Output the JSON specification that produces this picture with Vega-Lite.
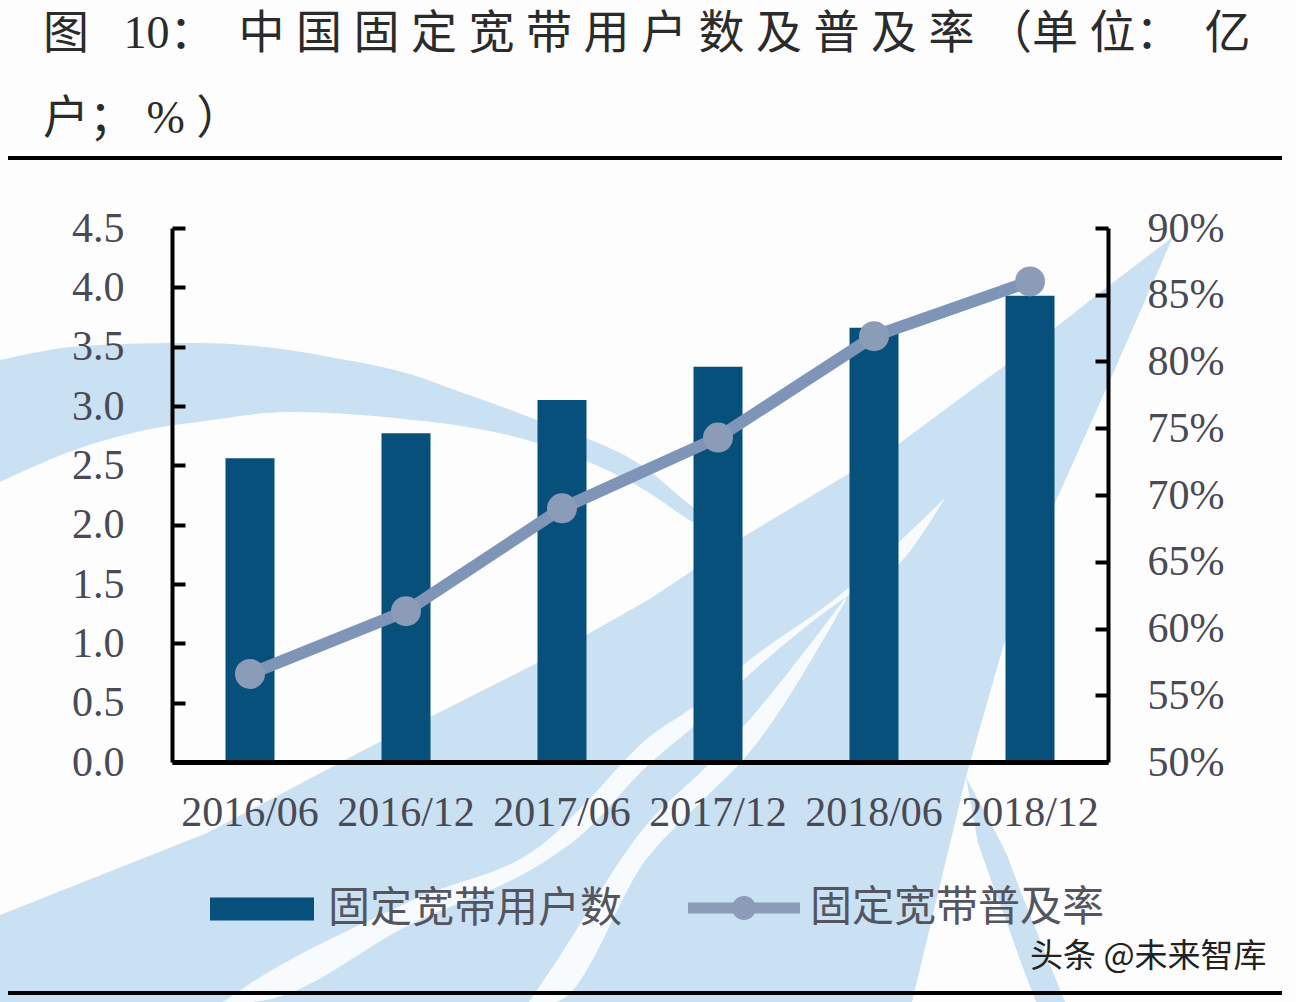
{
"$schema":"https://vega.github.io/schema/vega-lite/v6.json",
"autosize":{"type":"none"},
"width":936,"height":534,
"padding":{"left":172,"top":228,"right":188,"bottom":240},
"background":"#fdfdfe",
"config":{"view":{"stroke":null}},
"title":{"text":["图\u00a0\u00a0\u00a010\uff1a\u00a0\u00a0中 国 固 定 宽 带 用 户 数 及 普 及 率 \uff08单 位\uff1a\u00a0\u00a0亿","户\uff1b\u00a0%\u00a0\uff09"],"anchor":"start","frame":"group","dx":-129,"offset":13,"fontSize":46,"lineHeight":85,"fontWeight":"normal","font":"Liberation Serif, Noto Sans CJK SC","color":"#2b2b2b"},
"datasets":{
"broadband":[
{"period":"2016/06","users":2.56,"rate":0.566},
{"period":"2016/12","users":2.77,"rate":0.613},
{"period":"2017/06","users":3.05,"rate":0.69},
{"period":"2017/12","users":3.33,"rate":0.743},
{"period":"2018/06","users":3.66,"rate":0.819},
{"period":"2018/12","users":3.93,"rate":0.86}],
"arch":[{"x":0,"y":360,"y2":482},{"x":83,"y":346,"y2":447},{"x":174,"y":343,"y2":425},{"x":198,"y":343,"y2":422},{"x":289,"y":350,"y2":412},{"x":330,"y":357,"y2":413},{"x":413,"y":375,"y2":420},{"x":455,"y":390,"y2":425},{"x":537,"y":420,"y2":443},{"x":648,"y":470,"y2":492},{"x":693,"y":507,"y2":522},{"x":743,"y":537,"y2":540}],
"wedge":[{"x":0,"y":915,"y2":1002},{"x":207,"y":833,"y2":1002},{"x":364,"y":750,"y2":1002},{"x":430,"y":717,"y2":1002},{"x":537,"y":663,"y2":1002},{"x":648,"y":600,"y2":1002},{"x":743,"y":537,"y2":1002},{"x":900,"y":443,"y2":1002},{"x":912,"y":434,"y2":1002},{"x":966,"y":394,"y2":777},{"x":1003,"y":367,"y2":647},{"x":1055,"y":328,"y2":503},{"x":1107,"y":287,"y2":387},{"x":1173,"y":237,"y2":237}],
"tail":[{"x":966,"y":777,"y2":777},{"x":978,"y":800,"y2":843},{"x":991,"y":823,"y2":880},{"x":1007,"y":855,"y2":923},{"x":1020,"y":890,"y2":960},{"x":1036,"y":930,"y2":1002},{"x":1065,"y":1002,"y2":1002}],
"streakA":[{"x":223,"y":1002,"y2":1002},{"x":248,"y":985,"y2":1002},{"x":413,"y":900,"y2":923},{"x":550,"y":838,"y2":858},{"x":579,"y":810,"y2":837},{"x":648,"y":738,"y2":765},{"x":693,"y":707,"y2":727},{"x":743,"y":665,"y2":680},{"x":846,"y":590,"y2":597},{"x":900,"y":541,"y2":563},{"x":945,"y":498,"y2":498}],
"streakB":[{"x":529,"y":1002,"y2":1002},{"x":554,"y":965,"y2":1002},{"x":648,"y":823,"y2":857},{"x":706,"y":767,"y2":797},{"x":743,"y":727,"y2":760},{"x":846,"y":597,"y2":600}],
"frameLines":[{"x":8,"x2":1282,"y":158},{"x":8,"x2":1282,"y":993}],
"credit":[{"x":1030,"y":957,"text":"头条 @未来智库"}]
},
"layer":[
{"data":{"name":"arch"},"mark":{"type":"area","color":"#c9e1f2","interpolate":"monotone"},"encoding":{"x":{"field":"x","type":"quantitative","scale":{"domain":[172,1108],"nice":false,"zero":false},"axis":null},"y":{"field":"y","type":"quantitative","scale":{"domain":[762,228],"nice":false,"zero":false},"axis":null},"y2":{"field":"y2"}}},
{"data":{"name":"wedge"},"mark":{"type":"area","color":"#c9e1f2"},"encoding":{"x":{"field":"x","type":"quantitative","scale":{"domain":[172,1108],"nice":false,"zero":false},"axis":null},"y":{"field":"y","type":"quantitative","scale":{"domain":[762,228],"nice":false,"zero":false},"axis":null},"y2":{"field":"y2"}}},
{"data":{"name":"tail"},"mark":{"type":"area","color":"#c9e1f2"},"encoding":{"x":{"field":"x","type":"quantitative","scale":{"domain":[172,1108],"nice":false,"zero":false},"axis":null},"y":{"field":"y","type":"quantitative","scale":{"domain":[762,228],"nice":false,"zero":false},"axis":null},"y2":{"field":"y2"}}},
{"data":{"name":"streakA"},"mark":{"type":"area","color":"#f8fbfd","interpolate":"monotone"},"encoding":{"x":{"field":"x","type":"quantitative","scale":{"domain":[172,1108],"nice":false,"zero":false},"axis":null},"y":{"field":"y","type":"quantitative","scale":{"domain":[762,228],"nice":false,"zero":false},"axis":null},"y2":{"field":"y2"}}},
{"data":{"name":"streakB"},"mark":{"type":"area","color":"#f8fbfd","interpolate":"monotone"},"encoding":{"x":{"field":"x","type":"quantitative","scale":{"domain":[172,1108],"nice":false,"zero":false},"axis":null},"y":{"field":"y","type":"quantitative","scale":{"domain":[762,228],"nice":false,"zero":false},"axis":null},"y2":{"field":"y2"}}},
{"data":{"name":"frameLines"},"mark":{"type":"rule","color":"#000000","strokeWidth":4},"encoding":{"x":{"field":"x","type":"quantitative","scale":{"domain":[172,1108],"nice":false,"zero":false},"axis":null},"x2":{"field":"x2"},"y":{"field":"y","type":"quantitative","scale":{"domain":[762,228],"nice":false,"zero":false},"axis":null}}},
{"data":{"name":"credit"},"mark":{"type":"text","align":"left","baseline":"middle","fontSize":33,"font":"Noto Sans CJK SC","color":"#222222"},"encoding":{"x":{"field":"x","type":"quantitative","scale":{"domain":[172,1108],"nice":false,"zero":false},"axis":null},"y":{"field":"y","type":"quantitative","scale":{"domain":[762,228],"nice":false,"zero":false},"axis":null},"text":{"field":"text"}}},
{"data":{"name":"broadband"},"mark":{"type":"bar","size":49},"encoding":{
"x":{"field":"period","type":"nominal","sort":null,"scale":{"type":"band","paddingInner":0,"paddingOuter":0},"axis":{"title":null,"labelAngle":0,"labelFont":"Liberation Serif","labelFontSize":42,"labelColor":"#4a4a55","labelPadding":30,"ticks":false,"domainColor":"#000000","domainWidth":5,"zindex":1,"labelLimit":300}},
"y":{"field":"users","type":"quantitative","scale":{"domain":[0,4.5],"nice":false},"axis":{"title":null,"values":[0,0.5,1,1.5,2,2.5,3,3.5,4,4.5],"format":".1f","grid":false,"labelFont":"Liberation Serif","labelFontSize":42,"labelColor":"#4a4a55","labelPadding":61,"tickSize":-13,"tickWidth":4,"tickColor":"#000000","domainColor":"#000000","domainWidth":4,"zindex":1}},
"color":{"datum":"固定宽带用户数","type":"nominal","scale":{"range":["#07507c"]},"legend":{"title":null,"orient":"none","legendX":38,"legendY":629,"symbolType":"M-1,-0.22L1,-0.22L1,0.22L-1,0.22Z","symbolSize":10816,"symbolStrokeWidth":0,"labelFont":"Noto Sans CJK SC","labelFontSize":42,"labelColor":"#55555f","labelLimit":400,"labelOffset":14}}}},
{"data":{"name":"broadband"},"mark":{"type":"line","color":"#7f95b8","strokeWidth":12},"encoding":{
"x":{"field":"period","type":"nominal","sort":null,"scale":{"type":"band","paddingInner":0,"paddingOuter":0},"axis":null},
"y":{"field":"rate","type":"quantitative","scale":{"domain":[0.5,0.9],"nice":false,"zero":false},"axis":{"orient":"right","title":null,"values":[0.5,0.55,0.6,0.65,0.7,0.75,0.8,0.85,0.9],"format":".0%","grid":false,"labelFont":"Liberation Serif","labelFontSize":42,"labelColor":"#4a4a55","labelPadding":52,"tickSize":-13,"tickWidth":4,"tickColor":"#000000","domainColor":"#000000","domainWidth":4,"zindex":1}}}},
{"data":{"name":"broadband"},"mark":{"type":"point","filled":true,"size":900,"opacity":1},"encoding":{
"x":{"field":"period","type":"nominal","sort":null,"scale":{"type":"band","paddingInner":0,"paddingOuter":0},"axis":null},
"y":{"field":"rate","type":"quantitative","scale":{"domain":[0.5,0.9],"nice":false,"zero":false},"axis":null},
"color":{"datum":"固定宽带普及率","type":"nominal","scale":{"range":["#8a9cb8"]},"legend":{"title":null,"orient":"none","legendX":516,"legendY":624,"symbolType":"M-1,-0.1L1,-0.1L1,0.1L-1,0.1Z M-0.214,0A0.214,0.214,0,1,1,0.214,0A0.214,0.214,0,1,1,-0.214,0Z","symbolSize":12544,"symbolStrokeWidth":0,"labelFont":"Noto Sans CJK SC","labelFontSize":42,"labelColor":"#55555f","labelLimit":400,"labelOffset":10}}}}
],
"resolve":{"scale":{"x":"independent","y":"independent","color":"independent"}}
}
